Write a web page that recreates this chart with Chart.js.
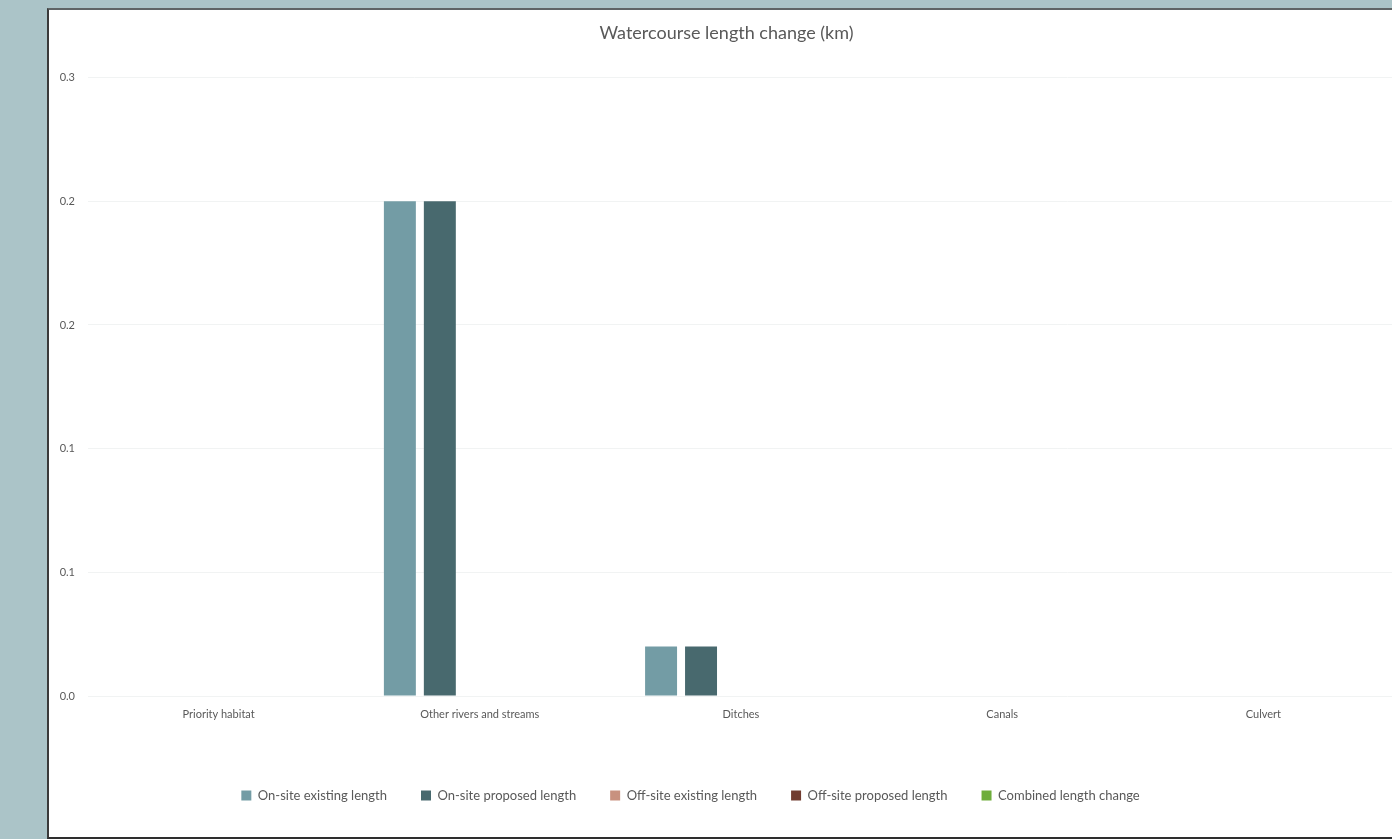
<!DOCTYPE html>
<html>
<head>
<meta charset="utf-8">
<script src="https://cdn.jsdelivr.net/npm/chart.js@4.4.1/dist/chart.umd.min.js"></script>
<style>
  html, body { margin: 0; padding: 0; background: #abc4c8; overflow: hidden; }
  #panel {
    position: absolute; left: 47px; top: 8px;
    width: 1400px; height: 827px;
    background: #ffffff;
    border-left: 2px solid #3a3a3a;
    border-top: 2px solid #5f6466;
    border-bottom: 2px solid #2e2e2e;
  }
  #wrap { position: absolute; left: -2px; top: 0; width: 1347px; height: 827px; }
</style>
</head>
<body>
<div id="panel"><div id="wrap"><canvas id="chart0"></canvas></div></div>
<script>
const categories = ['Priority habitat', 'Other rivers and streams', 'Ditches', 'Canals', 'Culvert'];
const onsiteExisting = [0, 0.2, 0.02, 0, 0];
const onsiteProposed = [0, 0.2, 0.02, 0, 0];
const offsiteExisting = [0, 0, 0, 0, 0];
const offsiteProposed = [0, 0, 0, 0, 0];
const combinedChange = [0, 0, 0, 0, 0];
const yTickLabels = ['0.0', '0.1', '0.1', '0.2', '0.2', '0.3'];

const textGrey = '#595959';

// legend sits a little left of centre in the original, title a little right
const boxShift = {
  id: 'boxShift',
  afterLayout(chart) {
    chart.legend.left -= 30;
    chart.legend.right -= 30;
    chart.titleBlock.left += 6;
    chart.titleBlock.right += 6;
  }
};

const chart0 = document.getElementById('chart0');
const myChart0 = new Chart(chart0, {
  type: 'bar',
  data: {
    labels: categories,
    datasets: [
      { label: 'On-site existing length', data: onsiteExisting, backgroundColor: '#739ca5' },
      { label: 'On-site proposed length', data: onsiteProposed, backgroundColor: '#48696e' },
      { label: 'Off-site existing length', data: offsiteExisting, backgroundColor: '#c8917f' },
      { label: 'Off-site proposed length', data: offsiteProposed, backgroundColor: '#713c30' },
      { label: 'Combined length change', data: combinedChange, backgroundColor: '#6ead3b' }
    ]
  },
  plugins: [boxShift],
  options: {
    responsive: true,
    maintainAspectRatio: false,
    animation: false,
    categoryPercentage: 0.765,
    barPercentage: 0.8,
    layout: { padding: { left: 0, right: 0, top: 0, bottom: 25 } },
    scales: {
      x: {
        grid: { display: false },
        border: { display: false },
        ticks: { color: textGrey, font: { family: 'Lato', size: 11 }, padding: 4, maxRotation: 0 },
        afterFit: (scale) => { scale.height = 59; }
      },
      y: {
        min: 0,
        max: 0.25,
        grid: { color: '#f1f3f3', drawTicks: false },
        border: { display: false },
        ticks: {
          stepSize: 0.05,
          padding: 13,
          color: textGrey,
          font: { family: 'Lato', size: 11 },
          callback: (v, i) => yTickLabels[i]
        },
        afterFit: (scale) => { scale.width = 41; }
      }
    },
    plugins: {
      title: {
        display: true,
        text: 'Watercourse length change (km)',
        color: textGrey,
        font: { family: 'Lato', size: 18, weight: 'normal' },
        padding: { top: 12, bottom: 34 }
      },
      legend: {
        position: 'bottom',
        labels: {
          boxWidth: 10,
          boxHeight: 10,
          padding: 34,
          color: textGrey,
          font: { family: 'Lato', size: 13 }
        }
      },
      tooltip: { enabled: false }
    }
  }
});
</script>
</body>
</html>
